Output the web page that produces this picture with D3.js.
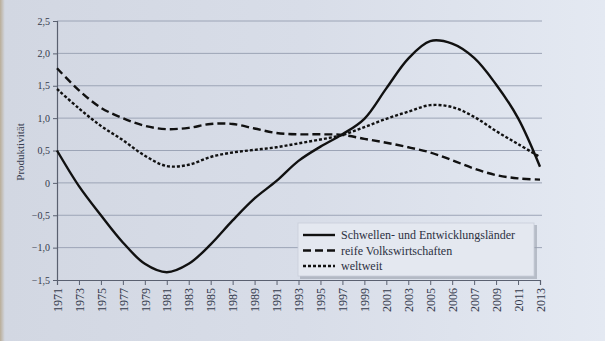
<!DOCTYPE html>
<html><head><meta charset="utf-8">
<script src="https://cdn.jsdelivr.net/npm/d3@7"></script>
<style>
html,body{margin:0;padding:0;}
body{width:605px;height:341px;overflow:hidden;background:#d9dee9;}
</style></head>
<body>
<svg id="chart" width="605" height="341"></svg>
<script>
const years = ["1971","1973","1975","1977","1979","1981","1983","1985","1987","1989","1991","1993","1995","1997","1999","2001","2003","2005","2006","2007","2009","2011","2013"];
const schwellen = [0.50,-0.05,-0.50,-0.92,-1.25,-1.38,-1.25,-0.95,-0.58,-0.24,0.03,0.34,0.56,0.75,0.99,1.46,1.92,2.19,2.15,1.93,1.52,1.00,0.25];
const reife = [1.77,1.43,1.16,1.00,0.88,0.83,0.85,0.91,0.91,0.84,0.77,0.75,0.75,0.74,0.68,0.62,0.55,0.47,0.35,0.22,0.12,0.07,0.05];
const weltweit = [1.45,1.15,0.88,0.66,0.42,0.26,0.28,0.40,0.47,0.51,0.55,0.61,0.67,0.74,0.86,0.99,1.10,1.20,1.17,1.02,0.80,0.60,0.40];
const yTicks = [2.5,2.0,1.5,1.0,0.5,0,-0.5,-1.0,-1.5];
const seriesNames = ["Schwellen- und Entwicklungsländer","reife Volkswirtschaften","weltweit"];

const svg = d3.select("#chart");
const font = "'Liberation Serif', 'DejaVu Serif', serif";
const ink = "#353a4c";

// paper background
const defs = svg.append("defs");
const grad = defs.append("linearGradient").attr("id","paper").attr("x1","0").attr("x2","1").attr("y1","0").attr("y2","0");
grad.append("stop").attr("offset","0").attr("stop-color","#b9ad98");
grad.append("stop").attr("offset","0.008").attr("stop-color","#d2d7e2");
grad.append("stop").attr("offset","0.5").attr("stop-color","#d8dde8");
grad.append("stop").attr("offset","1").attr("stop-color","#e4e9f2");
svg.append("rect").attr("width",605).attr("height",341).attr("fill","url(#paper)");

const x = d3.scalePoint().domain(years).range([57,540]);
const y = d3.scaleLinear().domain([-1.5,2.5]).range([280,21]);

// gridlines
svg.append("g").selectAll("line").data(yTicks.filter(d=>d>-1.5)).join("line")
  .attr("x1",57).attr("x2",542).attr("y1",d=>y(d)).attr("y2",d=>y(d))
  .attr("stroke","#9ca4b6").attr("stroke-width",1);

// y axis
const fmt = d => d===0 ? "0" : d3.format(".1f")(d).replace(".",",").replace("-","\u2212");
const yAxis = svg.append("g").attr("transform","translate(57,0)")
  .call(d3.axisLeft(y).tickValues(yTicks).tickFormat(fmt).tickSize(4).tickPadding(3));
yAxis.select(".domain").attr("stroke","#5a6070").attr("stroke-width",1.2);
yAxis.selectAll(".tick line").attr("stroke","#5a6070");
yAxis.selectAll("text").attr("font-family",font).attr("font-size",10).attr("fill",ink);

// x axis
const xAxis = svg.append("g").attr("transform","translate(0,280)")
  .call(d3.axisBottom(x).tickSize(5).tickPadding(3));
xAxis.select(".domain").attr("stroke","#5a6070").attr("stroke-width",1.2);
xAxis.selectAll(".tick line").attr("stroke","#5a6070");
xAxis.selectAll("text").attr("font-family",font).attr("font-size",12).attr("fill",ink)
  .attr("transform","rotate(-90)").attr("text-anchor","end")
  .attr("x",-8).attr("y",0).attr("dy","0.35em");

// y title
svg.append("text").attr("transform","translate(24,152) rotate(-90)")
  .attr("text-anchor","middle").attr("font-family",font).attr("font-size",11)
  .attr("fill",ink).text("Produktivität");

// lines
const line = d3.line().x((d,i)=>x(years[i])).y(d=>y(d)).curve(d3.curveCatmullRom.alpha(0.5));
const styles = [
  {data:schwellen, dash:null},
  {data:reife, dash:"8,4"},
  {data:weltweit, dash:"3,2"}
];
styles.forEach(s=>{
  svg.append("path").datum(s.data).attr("d",line).attr("fill","none")
    .attr("stroke","#111").attr("stroke-width",2.4)
    .attr("stroke-dasharray",s.dash);
});

// legend
const lg = svg.append("g");
lg.append("rect").attr("x",300).attr("y",225).attr("width",237).attr("height",54).attr("fill","#9aa0ac").attr("opacity",0.6);
lg.append("rect").attr("x",298).attr("y",223).attr("width",236).attr("height",53).attr("fill","#e4e8f0").attr("stroke","#c9ceda").attr("stroke-width",0.8);
styles.forEach((s,i)=>{
  const yy = 235 + i*15.5;
  lg.append("line").attr("x1",303).attr("x2",335).attr("y1",yy).attr("y2",yy)
    .attr("stroke","#111").attr("stroke-width",2.4).attr("stroke-dasharray",s.dash);
  lg.append("text").attr("x",341).attr("y",yy).attr("dy","0.35em")
    .attr("font-family",font).attr("font-size",12).attr("fill","#2c3142").text(seriesNames[i]);
});
</script>
</body></html>
